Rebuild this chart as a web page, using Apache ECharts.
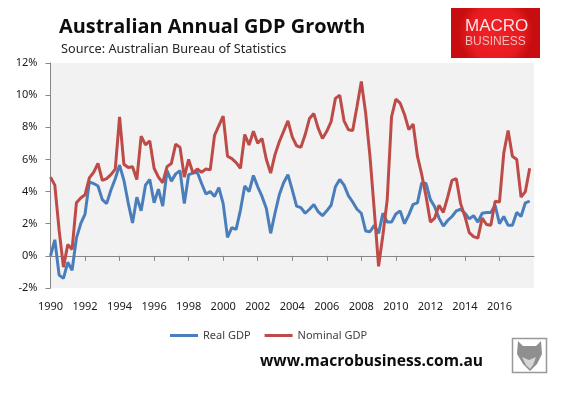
<!DOCTYPE html>
<html>
<head>
<meta charset="utf-8">
<script src="https://cdn.jsdelivr.net/npm/echarts@6/dist/echarts.min.js"></script>
<style>
  html, body { margin: 0; padding: 0; background: #fff; }
  #chart { width: 568px; height: 394px; }
</style>
</head>
<body>
<div id="chart"></div>
<script>
// quarterly
var years = [1990, 1991, 1992, 1993, 1994, 1995, 1996, 1997, 1998, 1999, 2000, 2001, 2002, 2003,
  2004, 2005, 2006, 2007, 2008, 2009, 2010, 2011, 2012, 2013, 2014, 2015, 2016, 2017];

var realGdp = [
  0.0, 1.0, -1.2, -1.4, -0.4, -0.9, 1.1, 2.0, 2.6, 4.6, 4.5, 4.35, 3.5, 3.25, 4.1, 4.8,
  5.65, 4.7, 3.3, 2.05, 3.65, 2.8, 4.4, 4.75, 3.3, 4.15, 3.1, 5.3, 4.65, 5.1, 5.3, 3.25,
  5.05, 5.15, 5.2, 4.5, 3.85, 4.0, 3.7, 4.25, 3.25, 1.15, 1.75, 1.65, 2.85, 4.35, 4.0, 5.0,
  4.3, 3.7, 2.95, 1.4, 2.65, 3.8, 4.55, 5.05, 4.1, 3.1, 3.0, 2.65, 2.9, 3.2, 2.75, 2.5,
  2.8, 3.15, 4.3, 4.75, 4.4, 3.75, 3.35, 2.9, 2.65, 1.55, 1.5, 1.9, 1.4, 2.65, 2.1, 2.1,
  2.6, 2.8, 2.0, 2.55, 3.2, 3.3, 4.55, 4.5, 3.5, 3.05, 2.35, 1.85, 2.2, 2.45, 2.8, 2.9,
  2.65, 2.3, 2.5, 2.1, 2.65, 2.7, 2.7, 3.15, 2.0, 2.45, 1.9, 1.9, 2.7, 2.45, 3.3, 3.4
];

var nominalGdp = [
  4.9, 4.4, 1.6, -0.7, 0.7, 0.4, 3.3, 3.6, 3.8, 4.85, 5.2, 5.75, 4.7, 4.8, 5.05, 5.4,
  8.65, 5.7, 5.5, 5.55, 4.75, 7.45, 6.9, 7.15, 5.45, 4.9, 4.55, 5.55, 5.75, 6.95, 6.75, 4.9,
  6.0, 5.15, 5.4, 5.2, 5.4, 5.35, 7.5, 8.1, 8.7, 6.2, 6.05, 5.8, 5.45, 7.55, 6.9, 7.75,
  7.0, 7.3, 6.0, 5.15, 6.3, 7.1, 7.75, 8.4, 7.4, 6.85, 6.75, 7.55, 8.55, 8.85, 7.95, 7.3,
  7.75, 8.35, 9.8, 10.0, 8.4, 7.85, 7.8, 9.3, 10.85, 8.9, 6.2, 2.85, -0.65, 1.3, 3.5, 8.65,
  9.75, 9.5, 8.8, 7.85, 8.2, 6.2, 5.05, 3.7, 2.1, 2.35, 3.15, 2.7, 3.65, 4.7, 4.8, 3.25,
  2.45, 1.45, 1.2, 1.1, 2.35, 1.95, 1.9, 3.4, 3.35, 6.4, 7.8, 6.2, 6.0, 3.65, 4.0, 5.45
];

var categories = [];
years.forEach(function (y) {
  ["Q1", "Q2", "Q3", "Q4"].forEach(function (q) {
    categories.push(q == "Q1" ? String(y) : y + q);
  });
});
categories.push("");

var labelFont = "'Noto Sans', sans-serif";
var myChart = echarts.init(document.getElementById("chart"));

// every second year, nothing on the empty end slot
function everyTwoYears(i) {
  return i % 8 == 0 && i < realGdp.length;
}

var option = {
  animation: false,
  backgroundColor: "#fff",
  textStyle: { fontFamily: labelFont },
  title: [
    {
      text: "Australian Annual GDP Growth",
      left: 54,
      top: 12,
      textStyle: { fontFamily: "'Open Sans', sans-serif", fontSize: 19.9, fontWeight: "bold", color: "#0d0d0d" },
    },
    {
      text: "Source: Australian Bureau of Statistics",
      left: 56,
      top: 38,
      textStyle: { fontFamily: "'Noto Sans', sans-serif", fontSize: 12.7, fontWeight: "normal", color: "#262626" },
    },
  ],
  grid: {
    left: 50.5,
    right: 34,
    top: 63,
    height: 225,
    show: true,
    backgroundColor: "#f2f2f2",
    borderWidth: 0,
  },
  legend: {
    left: 165,
    top: 325,
    itemWidth: 28,
    itemHeight: 3,
    itemGap: 14,
    icon: "rect",
    textStyle: { fontSize: 11, color: "#404040", fontFamily: labelFont },
    data: ["Real GDP", "Nominal GDP"],
  },
  xAxis: [
    {
      // line and ticks sit on the zero line
      type: "category",
      data: categories,
      boundaryGap: false,
      axisLine: { onZero: true, lineStyle: { color: "#868686", width: 1 } },
      axisTick: { show: true, interval: everyTwoYears, length: 5, lineStyle: { color: "#868686" } },
      axisLabel: { show: false },
      splitLine: { show: false },
    },
    {
      // labels stay at the bottom
      type: "category",
      position: "bottom",
      data: categories,
      boundaryGap: false,
      axisLine: { show: false, onZero: false },
      axisTick: { show: false },
      axisLabel: {
        interval: everyTwoYears,
        margin: 13,
        fontSize: 11,
        color: "#1a1a1a",
      },
      splitLine: { show: false },
    },
  ],
  yAxis: {
    type: "value",
    min: -2,
    max: 12,
    interval: 2,
    axisLine: { show: true, lineStyle: { color: "#868686" } },
    axisTick: { show: true, length: 5, lineStyle: { color: "#868686" } },
    axisLabel: {
      margin: 13,
      fontSize: 11,
      color: "#1a1a1a",
      formatter: "{value}%",
    },
    splitLine: { show: false },
  },
  series: [
    {
      name: "Real GDP",
      type: "line",
      data: realGdp,
      showSymbol: false,
      symbol: "none",
      lineStyle: { color: "#4a7ebb", width: 3 },
      itemStyle: { color: "#4a7ebb" },
    },
    {
      name: "Nominal GDP",
      type: "line",
      data: nominalGdp,
      showSymbol: false,
      symbol: "none",
      lineStyle: { color: "#be4b48", width: 3 },
      itemStyle: { color: "#be4b48" },
    },
  ],
  graphic: [
    {
      type: "rect",
      shape: { x: 451, y: 8, width: 89, height: 50 },
      style: {
        fill: {
          type: "radial", x: 0.5, y: 0.5, r: 0.75,
          colorStops: [{ offset: 0, color: "#ee2226" }, { offset: 0.7, color: "#e81c20" }, { offset: 1, color: "#c80d10" }],
        },
      },
    },
    {
      type: "text",
      style: { x: 465, y: 18, text: "MACRO", fill: "#fbe3e3", font: "normal 17px 'Liberation Sans', sans-serif" },
    },
    {
      type: "text",
      style: { x: 465, y: 36, text: "BUSINESS", fill: "#f7b9ba", font: "normal 12px 'Liberation Sans', sans-serif" },
    },
    {
      type: "text",
      style: { x: 260, y: 354, text: "www.macrobusiness.com.au", fill: "#0d0d0d", font: "bold 15.6px 'Open Sans', sans-serif" },
    },
    {
      // wolf badge
      type: "rect",
      shape: { x: 512.5, y: 338.5, width: 34, height: 34 },
      style: { fill: "#fff", stroke: "#999", lineWidth: 1.5 },
    },
    {
      type: "polygon",
      shape: { points: [[518, 341], [523, 346], [536, 346], [541, 341], [542, 354], [537, 364], [530, 371], [523, 364], [517, 354]] },
      style: { fill: "#8f8f8f" },
    },
    {
      type: "polygon",
      shape: { points: [[522, 357], [529, 360], [536, 357], [533, 365], [530, 369], [526, 365]] },
      style: { fill: "#d6d6d6" },
    },
  ],
};

option && myChart.setOption(option);
</script>
</body>
</html>
